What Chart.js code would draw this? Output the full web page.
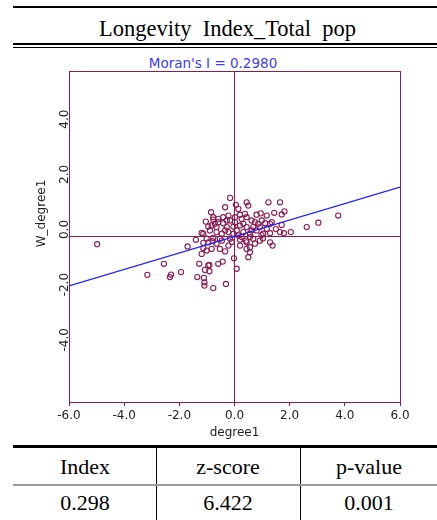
<!DOCTYPE html>
<html>
<head>
<meta charset="utf-8">
<script src="https://cdn.jsdelivr.net/npm/chart.js@4.4.0/dist/chart.umd.min.js"></script>
<style>
  body { margin: 0; background: #fff; }
  #page { position: relative; width: 437px; height: 520px; overflow: hidden; background: #fff; }
  .rule { position: absolute; background: #000; }
  .serif { position: absolute; font-family: "Liberation Serif", "Times New Roman", serif; font-size: 22px; line-height: 26px; color: #000; white-space: pre; text-align: center; }
  #moran { position: absolute; left: 113px; width: 200px; top: 55px; text-align: center; font-family: "DejaVu Sans", sans-serif; font-size: 13.5px; line-height: 16px; color: #3b3bff; }
  #wrap { position: absolute; left: 0; top: 50px; width: 437px; height: 395px; }
</style>
</head>
<body>
<div id="page">
  <div class="rule" style="left:13px; top:6px; width:424px; height:2px;"></div>
  <div class="serif" style="left:0; width:455px; top:16px; font-size:22.5px;">Longevity  Index_Total  pop</div>
  <div class="rule" style="left:13px; top:43px; width:424px; height:2px;"></div>
  <div class="rule" style="left:13px; top:47px; width:424px; height:1px;"></div>
  <div id="moran">Moran's I = 0.2980</div>
  <div id="wrap"><canvas id="chart" width="437" height="395"></canvas></div>

  <div class="rule" style="left:13px; top:445px; width:424px; height:3px;"></div>
  <div class="rule" style="left:156px; top:448px; width:1px; height:72px;"></div>
  <div class="rule" style="left:300px; top:448px; width:1px; height:72px;"></div>
  <div class="rule" style="left:13px; top:484px; width:424px; height:2px; background:#9a9a9a;"></div>
  <div id="table"></div>
</div>

<script>
// Moran scatter data (standardised degree1 vs spatial lag)
const moranI = 0.298;
const degree1 = [
  -0.16, 0.05, 0.14, -0.34, 0.44, 0.50, 1.23, 1.65, -0.85, 1.44,
  1.71, 0.95, 0.80, -0.22, 0.20, -0.77, -0.59, -0.41, 0.02, 0.38,
  -1.04, -0.77, -0.59, -0.41, -0.16, 0.02, 0.26, 0.44, 0.62, 0.74,
  0.99, 1.11, 1.29, 1.71, -0.83, -0.65, -0.28, -0.04, 0.20, 0.44,
  0.68, 0.92, 1.17, -1.19, -1.13, -0.89, -0.65, -0.46, -0.22, 0.08,
  0.32, 0.56, 0.80, 1.04, 1.29, 1.79, 2.04, 2.62, 3.04, 3.76,
  -1.40, -1.01, -0.77, -0.46, -0.16, 0.20, 0.44, 0.68, 0.92, 1.29,
  1.38, -1.70, -4.98, -1.13, -0.95, -0.79, -0.53, -0.65, -0.53, -0.34,
  -0.22, 0.20, 0.44, 0.42, -1.19, -1.01, -0.83, -1.13, 0.56, 0.74,
  0.56, 0.50, 1.03, -0.02, -0.43, -0.59, -2.56, -1.28, -0.95, -0.91,
  -1.07, 0.08, -3.16, -2.30, -2.34, -1.94, -1.35, -1.11, -1.09, -1.09,
  -0.77, -0.31, -0.91, -0.28, 0.32, 0.62, -0.04, 0.14, -0.34, 0.86,
  1.17, 1.81, 1.35, 1.65, 0.26, -0.10, 0.56, -0.71, -0.95, 0.98, 1.50
];
const wDegree1 = [
  1.40, 1.15, 1.00, 1.06, 1.24, 1.12, 1.24, 1.24, 0.88, 0.86,
  0.80, 0.84, 0.79, 0.76, 0.79, 0.70, 0.64, 0.70, 0.70, 0.82,
  0.54, 0.61, 0.52, 0.48, 0.58, 0.52, 0.64, 0.70, 0.58, 0.52,
  0.58, 0.48, 0.46, 0.42, 0.40, 0.34, 0.34, 0.36, 0.40, 0.34,
  0.34, 0.34, 0.28, 0.13, 0.10, 0.22, 0.16, 0.10, 0.16, 0.22,
  0.16, 0.10, 0.22, 0.10, 0.12, 0.12, 0.16, 0.34, 0.50, 0.76,
  -0.12, -0.08, -0.05, -0.15, -0.08, -0.12, -0.21, -0.08, -0.15, -0.21,
  -0.33, -0.36, -0.28, -0.23, -0.21, -0.17, -0.08, -0.26, -0.45, -0.54,
  -0.33, -0.33, -0.45, -0.15, -0.63, -0.51, -0.45, -0.42, -0.39, -0.26,
  -0.57, -0.75, -0.07, -0.79, -0.91, -0.99, -0.99, -0.99, -1.05, -1.26,
  -1.21, -1.17, -1.39, -1.38, -1.47, -1.29, -1.47, -1.50, -1.66, -1.78,
  -1.87, -1.72, -1.03, 0.58, 0.46, 0.22, 0.10, 0.04, 0.22, 0.46,
  0.76, 0.91, 0.52, 0.16, -0.02, -0.20, -0.02, 0.46, 0.36, 0.05, 0.27
];
const fitX = [-6, 6];
const yTickValues = [-4, -2, 0, 2, 4];
const yTickLabels = ["-4.0", "-2.0", "0.0", "2.0", "4.0"];

// summary table
const tableHeaders = ["Index", "z-score", "p-value"];
const tableValues = ["0.298", "6.422", "0.001"];

const MAROON = "#8a1c52";
const BLUE = "#1f1fff";
const AXIS_FONT = { family: "DejaVu Sans", size: 12 };

// table cells
const colCenters = [85, 228, 369];
const table = document.getElementById("table");
tableHeaders.forEach((h, i) => {
  const d = document.createElement("div");
  d.className = "serif";
  d.style.left = (colCenters[i] - 70) + "px";
  d.style.width = "140px";
  d.style.top = "454px";
  d.textContent = h;
  table.appendChild(d);
  const v = document.createElement("div");
  v.className = "serif";
  v.style.left = (colCenters[i] - 70) + "px";
  v.style.width = "140px";
  v.style.top = "490px";
  v.textContent = tableValues[i];
  table.appendChild(v);
});

const points = degree1.map((x, i) => ({ x, y: wDegree1[i] }));
const fitLine = fitX.map((x) => ({ x, y: x * moranI }));

// frame around the plot area
const boxPlugin = {
  id: "box",
  afterDraw(chart) {
    const { ctx, chartArea: a } = chart;
    ctx.save();
    ctx.strokeStyle = MAROON;
    ctx.lineWidth = 1;
    ctx.strokeRect(Math.round(a.left) + 0.5, Math.round(a.top) + 0.5,
      Math.round(a.right - a.left), Math.round(a.bottom - a.top));
    ctx.restore();
  },
};

// rotated y labels + y title, like GeoDa
const yLabelPlugin = {
  id: "ylabels",
  afterDraw(chart) {
    const { ctx, chartArea: a } = chart;
    const ys = chart.scales.y;
    ctx.save();
    ctx.fillStyle = "#222";
    ctx.font = "12px 'DejaVu Sans'";
    ctx.textAlign = "center";
    ctx.textBaseline = "alphabetic";
    yTickValues.forEach((v, i) => {
      const py = ys.getPixelForValue(v);
      ctx.save();
      ctx.translate(a.left - 1, py - 7);
      ctx.rotate(-Math.PI / 2);
      ctx.fillText(yTickLabels[i], 0, 0);
      ctx.restore();
    });
    ctx.translate(a.left - 27, (a.top + a.bottom) / 2 - 23);
    ctx.rotate(-Math.PI / 2);
    ctx.textBaseline = "middle";
    ctx.fillText("W_degree1", 0, 0);
    ctx.restore();
  },
};

const zeroLine = (c) => (c.tick && c.tick.value === 0 ? MAROON : "rgba(0,0,0,0)");

new Chart(document.getElementById("chart"), {
  type: "scatter",
  data: {
    datasets: [
      {
        type: "line",
        data: fitLine,
        borderColor: BLUE,
        borderWidth: 1.3,
        pointRadius: 0,
        fill: false,
        order: 0,
      },
      {
        data: points,
        pointStyle: "circle",
        pointRadius: 2.6,
        borderWidth: 1.1,
        borderColor: MAROON,
        backgroundColor: "rgba(255,255,255,0)",
        order: 1,
      },
    ],
  },
  options: {
    responsive: false,
    animation: false,
    devicePixelRatio: 1,
    layout: { padding: { top: 21, right: 37, left: 0, bottom: 0 } },
    plugins: { legend: { display: false }, tooltip: { enabled: false } },
    scales: {
      x: {
        type: "linear",
        min: -6,
        max: 6,
        ticks: {
          stepSize: 2,
          maxRotation: 0,
          padding: 3,
          color: "#222",
          font: AXIS_FONT,
          callback: (v) => v.toFixed(1),
        },
        grid: { color: zeroLine, tickColor: MAROON, tickLength: 4, lineWidth: 1 },
        border: { color: MAROON },
        title: {
          display: true,
          text: "degree1",
          color: "#222",
          font: AXIS_FONT,
          padding: { top: 0, bottom: 5 },
        },
        afterFit: (s) => { s.height = 43; },
      },
      y: {
        type: "linear",
        min: -6,
        max: 6,
        ticks: { stepSize: 2, display: false },
        grid: { color: zeroLine, drawTicks: false, lineWidth: 1 },
        border: { color: MAROON },
        afterFit: (s) => { s.width = 69; },
      },
    },
  },
  plugins: [boxPlugin, yLabelPlugin],
});
</script>
</body>
</html>
